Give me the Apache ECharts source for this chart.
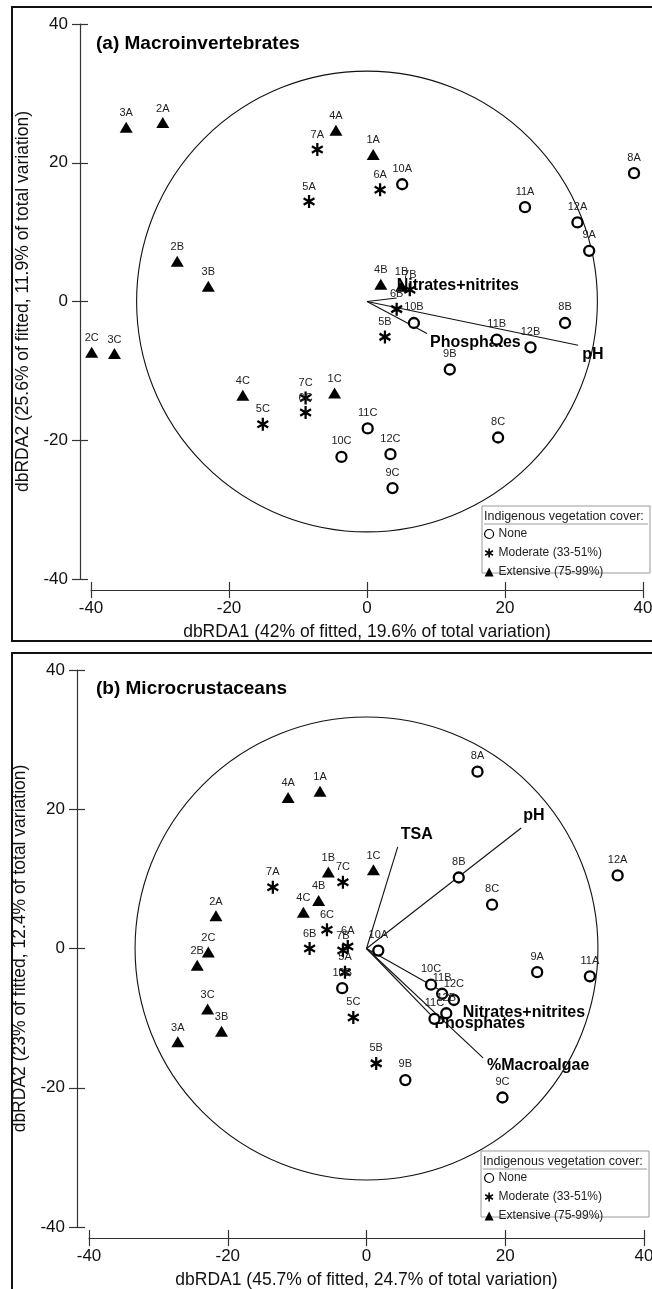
<!DOCTYPE html>
<html>
<head>
<meta charset="utf-8">
<script src="https://cdn.jsdelivr.net/npm/echarts/dist/echarts.min.js"></script>
<style>
  html, body { margin: 0; padding: 0; background: #fff; }
  #chart { width: 652px; height: 1289px; }
</style>
</head>
<body>
<div id="chart"></div>
<script>
// sites, same order in both panels
var sites = ['1A','2A','3A','4A','5A','6A','7A','8A','9A','10A','11A','12A',
             '1B','2B','3B','4B','5B','6B','7B','8B','9B','10B','11B','12B',
             '1C','2C','3C','4C','5C','6C','7C','8C','9C','10C','11C','12C'];
// cover class of sites 1..12 (index into coverNames)
var coverNames = ['None', 'Moderate (33-51%)', 'Extensive (75-99%)'];
var siteCover = [2, 2, 2, 2, 1, 1, 1, 0, 0, 0, 0, 0];

// (a) Macroinvertebrates
var xA = [0.9,-29.6,-34.9,-4.5,-8.4,1.9,-7.2,38.7,32.2,5.1,22.9,30.5,
          5.0,-27.5,-23.0,2.0,2.6,4.3,6.2,28.7,12.0,6.8,18.8,23.7,
          -4.7,-39.9,-36.6,-18.0,-15.1,-8.9,-8.9,19.0,3.7,-3.7,0.1,3.4];
var yA = [21.2,25.8,25.1,24.7,14.4,16.1,21.9,18.5,7.3,16.9,13.6,11.4,
          2.2,5.8,2.2,2.5,-5.1,-1.1,1.7,-3.1,-9.8,-3.1,-5.5,-6.6,
          -13.2,-7.3,-7.5,-13.5,-17.7,-16.0,-13.9,-19.6,-26.9,-22.4,-18.3,-22.0];
var vecNamesA = ['Nitrates+nitrites', 'Phosphates', 'pH'];
var vecXA = [4.3, 8.7, 30.6];
var vecYA = [0.5, -4.6, -6.3];

// (b) Microcrustaceans
var xB = [-6.7,-21.7,-27.2,-11.3,-3.1,-2.7,-13.5,16.0,24.6,1.7,32.2,36.2,
          -5.5,-24.4,-20.9,-6.9,1.4,-8.2,-3.4,13.3,5.6,-3.5,10.9,11.5,
          1.0,-22.8,-22.9,-9.1,-1.9,-5.7,-3.4,18.1,19.6,9.3,9.8,12.6];
var yB = [22.6,4.7,-13.4,21.7,-3.4,0.3,8.8,25.4,-3.4,-0.3,-4.0,10.5,
          11.0,-2.4,-11.9,6.9,-16.5,0.0,-0.3,10.2,-18.9,-5.7,-6.5,-9.3,
          11.3,-0.5,-8.7,5.2,-9.9,2.7,9.5,6.3,-21.4,-5.2,-10.1,-7.4];
var vecNamesB = ['TSA', 'pH', 'Nitrates+nitrites', 'Phosphates', '%Macroalgae'];
var vecXB = [4.5, 22.3, 13.3, 9.5, 16.8];
var vecYB = [14.6, 17.3, -7.5, -9.8, -15.7];

var circleR = 33.3;

var FONT = 'Liberation Sans, Arial, sans-serif';
var INK = '#111';
// six-armed asterisk, all three bars wound the same way so the middle stays filled
var ASTERISK = 'path://M41,0L59,0L59,100L41,100Z M11.2,17.2L97.8,67.2L88.8,82.8L2.2,32.8Z M2.2,67.2L88.8,17.2L97.8,32.8L11.2,82.8Z';

var symbolStyles = [
  { symbol: 'circle', symbolSize: 10, itemStyle: { color: '#fff', borderColor: '#000', borderWidth: 2.3, opacity: 1 }, dist: 4 },
  { symbol: ASTERISK, symbolSize: [12, 13], itemStyle: { color: '#000', opacity: 1 }, dist: 3 },
  { symbol: 'triangle', symbolSize: [13, 11], itemStyle: { color: '#000', opacity: 1 }, dist: 3 }
];

var tickStyle = { color: '#333', width: 1.2 };

function xAxes(grid, offset, title) {
  var base = {
    gridIndex: grid, type: 'value', min: -40, max: 40, interval: 20,
    position: 'bottom', offset: offset, splitLine: { show: false }
  };
  return [
    Object.assign({}, base, {
      name: title, nameLocation: 'middle', nameGap: 33,
      nameTextStyle: { fontFamily: FONT, fontSize: 17.5, color: INK },
      axisLine: { show: true, onZero: false, lineStyle: tickStyle },
      axisTick: { show: true, inside: false, length: 8, lineStyle: tickStyle },
      axisLabel: { fontFamily: FONT, fontSize: 17, color: INK, margin: 10 }
    }),
    Object.assign({}, base, {
      axisLine: { show: false, onZero: false },
      axisTick: { show: true, inside: true, length: 8, lineStyle: tickStyle },
      axisLabel: { show: false }
    })
  ];
}

function yAxes(grid, offset, title, gap) {
  var base = {
    gridIndex: grid, type: 'value', min: -40, max: 40, interval: 20,
    position: 'left', offset: offset, splitLine: { show: false }
  };
  return [
    Object.assign({}, base, {
      name: title, nameLocation: 'middle', nameGap: gap,
      nameTextStyle: { fontFamily: FONT, fontSize: 17.5, color: INK },
      axisLine: { show: true, onZero: false, lineStyle: tickStyle },
      axisTick: { show: true, inside: false, length: 8, lineStyle: tickStyle },
      axisLabel: { fontFamily: FONT, fontSize: 17, color: INK, margin: 12 }
    }),
    Object.assign({}, base, {
      axisLine: { show: false, onZero: false },
      axisTick: { show: true, inside: true, length: 8, lineStyle: tickStyle },
      axisLabel: { show: false }
    })
  ];
}

function panelSeries(axisIdx, xs, ys, vNames, vX, vY, vOffsets) {
  var out = [];
  // correlation circle
  out.push({
    type: 'custom', name: 'circle', xAxisIndex: axisIdx, yAxisIndex: axisIdx,
    silent: true, z: 1,
    data: [[0, 0, circleR]],
    renderItem: function (params, api) {
      var c = api.coord([api.value(0), api.value(1)]);
      var s = api.size([api.value(2), api.value(2)]);
      return {
        type: 'circle',
        shape: { cx: c[0], cy: c[1], r: (s[0] + s[1]) / 2 },
        style: { fill: 'none', stroke: INK, lineWidth: 1.1 }
      };
    }
  });
  // vectors
  for (var i = 0; i < vNames.length; i++) {
    out.push({
      type: 'line', name: 'vec-' + vNames[i], xAxisIndex: axisIdx, yAxisIndex: axisIdx,
      data: [[0, 0], [vX[i], vY[i]]], symbol: 'none', silent: true, z: 1,
      lineStyle: { color: INK, width: 1.1 }
    });
  }
  // vector labels
  out.push({
    type: 'scatter', name: 'vec-labels', xAxisIndex: axisIdx, yAxisIndex: axisIdx,
    symbolSize: 0, silent: true, z: 2, itemStyle: { opacity: 1 },
    data: vNames.map(function (n, k) {
      return { name: n, value: [vX[k], vY[k]], label: { offset: vOffsets[k] } };
    }),
    label: {
      show: true, position: 'right', distance: 0, formatter: '{b}',
      fontFamily: FONT, fontSize: 16, fontWeight: 'bold', color: '#000'
    }
  });
  // sites by cover class
  for (var g = 0; g < coverNames.length; g++) {
    var pts = [];
    for (var j = 0; j < sites.length; j++) {
      if (siteCover[parseInt(sites[j], 10) - 1] === g) {
        pts.push({ name: sites[j], value: [xs[j], ys[j]] });
      }
    }
    var st = symbolStyles[g];
    out.push({
      type: 'scatter', name: coverNames[g], xAxisIndex: axisIdx, yAxisIndex: axisIdx,
      z: 3, data: pts, symbol: st.symbol, symbolSize: st.symbolSize,
      itemStyle: st.itemStyle,
      label: {
        show: true, position: 'top', distance: st.dist, formatter: '{b}',
        fontFamily: FONT, fontSize: 11, color: '#222'
      }
    });
  }
  return out;
}

function legendFor(top) {
  return {
    orient: 'vertical', left: 484, top: top, padding: 0,
    itemWidth: 9, itemHeight: 9, itemGap: 7,
    textStyle: { fontFamily: FONT, fontSize: 12, color: '#222' },
    selectedMode: false,
    data: [
      { name: coverNames[0], itemStyle: { borderWidth: 1.2 } },
      { name: coverNames[1] },
      { name: coverNames[2] }
    ]
  };
}

function legendBox(x, y, h) {
  return [
    { type: 'rect', z: 0, shape: { x: x, y: y, width: 168, height: h },
      style: { fill: '#fff', stroke: '#9a9a9a', lineWidth: 1 } },
    { type: 'text', z: 5, style: { text: 'Indigenous vegetation cover:', x: x + 2, y: y + 11,
      verticalAlign: 'middle', font: '12.5px ' + FONT, fill: '#222' } },
    { type: 'line', z: 5, shape: { x1: x + 2, y1: y + 18, x2: x + 166, y2: y + 18 },
      style: { stroke: '#9a9a9a', lineWidth: 1 } }
  ];
}

var chart = echarts.init(document.getElementById('chart'), null, { renderer: 'canvas' });

var option = {
  backgroundColor: '#fff',
  animation: false,
  title: [
    { text: '(a) Macroinvertebrates', left: 96, top: 34, padding: 0,
      textStyle: { fontFamily: FONT, fontSize: 19, fontWeight: 'bold', color: '#000' } },
    { text: '(b) Microcrustaceans', left: 96, top: 679, padding: 0,
      textStyle: { fontFamily: FONT, fontSize: 19, fontWeight: 'bold', color: '#000' } }
  ],
  grid: [
    { left: 91, right: 9, top: 24, height: 555, outerBoundsMode: 'none', containLabel: false },
    { left: 89, right: 8, top: 670, height: 557, outerBoundsMode: 'none', containLabel: false }
  ],
  xAxis: xAxes(0, 11, 'dbRDA1 (42% of fitted, 19.6% of total variation)')
    .concat(xAxes(1, 11, 'dbRDA1 (45.7% of fitted, 24.7% of total variation)')),
  yAxis: yAxes(0, 11, 'dbRDA2 (25.6% of fitted, 11.9% of total variation)', 44)
    .concat(yAxes(1, 12, 'dbRDA2 (23% of fitted, 12.4% of total variation)', 43)),
  legend: [legendFor(528), legendFor(1172)],
  graphic: [
    { type: 'rect', z: 0, shape: { x: 12, y: 7, width: 700, height: 634 },
      style: { fill: 'none', stroke: '#111', lineWidth: 2 } },
    { type: 'rect', z: 0, shape: { x: 12, y: 653, width: 700, height: 700 },
      style: { fill: 'none', stroke: '#111', lineWidth: 2 } }
  ].concat(legendBox(482, 506, 67)).concat(legendBox(481, 1151, 66)),
  series: panelSeries(0, xA, yA, vecNamesA, vecXA, vecYA,
                      [[0, -12], [3, 9], [4, 9]])
    .concat(panelSeries(2, xB, yB, vecNamesB, vecXB, vecYB,
                        [[3, -12], [2, -12], [4, 12], [2, 7], [4, 8]]))
};

chart.setOption(option);
</script>
</body>
</html>
